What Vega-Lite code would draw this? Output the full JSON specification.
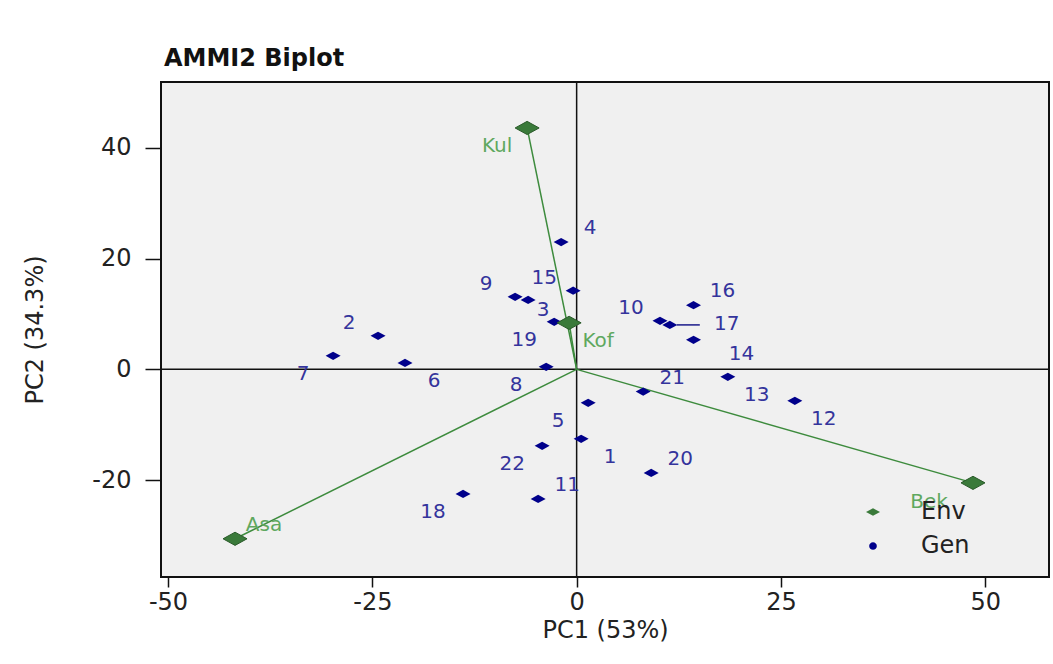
{
  "$schema": "https://vega.github.io/schema/vega-lite/v6.json",
  "autosize": "none",
  "padding": {"left": 161, "top": 82, "right": 4, "bottom": 87},
  "width": 888,
  "height": 495,
  "background": "white",
  "title": {"text": "AMMI2 Biplot", "anchor": "start", "frame": "group", "font": "DejaVu Sans", "fontSize": 24, "fontWeight": "bold", "color": "#111111", "offset": 10, "dx": 3},
  "datasets": {
    "pts": [
      {"label": "1", "type": "Gen", "PC1": 0.55, "PC2": -12.55},
      {"label": "2", "type": "Gen", "PC1": -24.3, "PC2": 6.05},
      {"label": "3", "type": "Gen", "PC1": -5.94, "PC2": 12.55},
      {"label": "4", "type": "Gen", "PC1": -1.9, "PC2": 23.0},
      {"label": "5", "type": "Gen", "PC1": 1.41, "PC2": -6.05},
      {"label": "6", "type": "Gen", "PC1": -21.0, "PC2": 1.17},
      {"label": "7", "type": "Gen", "PC1": -29.8, "PC2": 2.44},
      {"label": "8", "type": "Gen", "PC1": -3.73, "PC2": 0.45},
      {"label": "9", "type": "Gen", "PC1": -7.53, "PC2": 13.1},
      {"label": "10", "type": "Gen", "PC1": 10.2, "PC2": 8.76},
      {"label": "11", "type": "Gen", "PC1": -4.71, "PC2": -23.4},
      {"label": "12", "type": "Gen", "PC1": 26.7, "PC2": -5.69},
      {"label": "13", "type": "Gen", "PC1": 18.5, "PC2": -1.35},
      {"label": "14", "type": "Gen", "PC1": 14.3, "PC2": 5.33},
      {"label": "15", "type": "Gen", "PC1": -0.43, "PC2": 14.2},
      {"label": "16", "type": "Gen", "PC1": 14.3, "PC2": 11.6},
      {"label": "17", "type": "Gen", "PC1": 11.4, "PC2": 8.03},
      {"label": "18", "type": "Gen", "PC1": -13.9, "PC2": -22.5},
      {"label": "19", "type": "Gen", "PC1": -2.75, "PC2": 8.58},
      {"label": "20", "type": "Gen", "PC1": 9.12, "PC2": -18.7},
      {"label": "21", "type": "Gen", "PC1": 8.14, "PC2": -4.0},
      {"label": "22", "type": "Gen", "PC1": -4.22, "PC2": -13.8},
      {"label": "Kul", "type": "Env", "PC1": -6.06, "PC2": 43.6},
      {"label": "Kof", "type": "Env", "PC1": -0.92, "PC2": 8.4},
      {"label": "Bek", "type": "Env", "PC1": 48.5, "PC2": -20.5},
      {"label": "Asa", "type": "Env", "PC1": -41.8, "PC2": -30.6}
    ],
    "zero": [{"z": 0}]
  },
  "data": {"name": "pts"},
  "encoding": {
    "x": {"field": "PC1", "type": "quantitative", "scale": {"domain": [-50.86, 57.8], "nice": false, "zero": false},
      "axis": {"title": "PC1 (53%)", "values": [-50, -25, 0, 25, 50], "labelExpr": "'' + datum.value", "tickSize": 10, "labelPadding": 3, "titlePadding": 4}},
    "y": {"field": "PC2", "type": "quantitative", "scale": {"domain": [-37.5, 51.9], "nice": false, "zero": false},
      "axis": {"title": "PC2 (34.3%)", "values": [-20, 0, 20, 40], "labelExpr": "'' + datum.value", "tickSize": 16, "labelPadding": 14, "titlePadding": 44}}
  },
  "layer": [
    {"data": {"name": "zero"}, "mark": {"type": "rule", "color": "#111111", "strokeWidth": 1.5},
      "encoding": {"x": {"field": "z", "type": "quantitative"}, "y": null}},
    {"data": {"name": "zero"}, "mark": {"type": "rule", "color": "#111111", "strokeWidth": 1.5},
      "encoding": {"y": {"field": "z", "type": "quantitative"}, "x": null}},
    {"transform": [{"filter": "datum.type === 'Env'"}],
      "mark": {"type": "rule", "color": "#3d8b3d", "strokeWidth": 1.5},
      "encoding": {"x2": {"datum": 0}, "y2": {"datum": 0}}},
    {"transform": [{"filter": "datum.label === '17'"}],
      "mark": {"type": "rule", "color": "#1a1a8a", "strokeWidth": 1.5, "xOffset": 7, "x2Offset": 30},
      "encoding": {"x2": {"field": "PC1"}}},
    {"transform": [{"filter": "datum.type === 'Gen'"}],
      "mark": {"type": "point", "filled": true, "opacity": 1, "size": 225, "shape": "M-1,0L0,-0.55L1,0L0,0.55Z"},
      "encoding": {"color": {"field": "type", "type": "nominal",
        "scale": {"domain": ["Env", "Gen"], "range": ["#3a7a3a", "#00008b"]},
        "legend": {"title": null, "orient": "none", "legendX": 700, "legendY": 418, "labelFont": "DejaVu Sans", "labelFontSize": 24, "labelColor": "#222222", "symbolSize": 196, "labelOffset": 36, "rowPadding": 10, "symbolStrokeWidth": 0}}}},
    {"transform": [{"filter": "datum.type === 'Env'"}],
      "mark": {"type": "point", "filled": true, "opacity": 1, "size": 576, "stroke": "#2a5a2a", "strokeWidth": 1},
      "encoding": {
        "color": {"field": "type", "type": "nominal"},
        "shape": {"field": "type", "type": "nominal",
          "scale": {"domain": ["Env", "Gen"], "range": ["M-1,0L0,-0.55L1,0L0,0.55Z", "M-0.55,0A0.55,0.55 0 1,0 0.55,0A0.55,0.55 0 1,0 -0.55,0Z"]}}}},
    {"transform": [{"filter": {"field": "label", "oneOf": ["4", "11", "20", "21", "16", "Asa"]}}],
      "mark": {"type": "text", "font": "DejaVu Sans", "fontSize": 20, "dx": 29, "dy": -14, "align": "center", "baseline": "middle"},
      "encoding": {"text": {"field": "label"}, "fill": {"field": "type", "type": "nominal", "scale": {"domain": ["Env", "Gen"], "range": ["#5fa85f", "#34349c"]}, "legend": null}}},
    {"transform": [{"filter": {"field": "label", "oneOf": ["15", "9", "2", "10"]}}],
      "mark": {"type": "text", "font": "DejaVu Sans", "fontSize": 20, "dx": -29, "dy": -13, "align": "center", "baseline": "middle"},
      "encoding": {"text": {"field": "label"}, "fill": {"field": "type", "type": "nominal", "legend": null}}},
    {"transform": [{"filter": {"field": "label", "oneOf": ["7", "8", "5", "22", "18", "19", "Kul"]}}],
      "mark": {"type": "text", "font": "DejaVu Sans", "fontSize": 20, "dx": -30, "dy": 18, "align": "center", "baseline": "middle"},
      "encoding": {"text": {"field": "label"}, "fill": {"field": "type", "type": "nominal", "legend": null}}},
    {"transform": [{"filter": {"field": "label", "oneOf": ["6", "1", "12", "13", "Kof"]}}],
      "mark": {"type": "text", "font": "DejaVu Sans", "fontSize": 20, "dx": 29, "dy": 18, "align": "center", "baseline": "middle"},
      "encoding": {"text": {"field": "label"}, "fill": {"field": "type", "type": "nominal", "legend": null}}},
    {"transform": [{"filter": "datum.label === '3'"}],
      "mark": {"type": "text", "font": "DejaVu Sans", "fontSize": 20, "dx": 15, "dy": 10, "align": "center", "baseline": "middle"},
      "encoding": {"text": {"field": "label"}, "fill": {"field": "type", "type": "nominal", "legend": null}}},
    {"transform": [{"filter": "datum.label === '14'"}],
      "mark": {"type": "text", "font": "DejaVu Sans", "fontSize": 20, "dx": 48, "dy": 14, "align": "center", "baseline": "middle"},
      "encoding": {"text": {"field": "label"}, "fill": {"field": "type", "type": "nominal", "legend": null}}},
    {"transform": [{"filter": "datum.label === '17'"}],
      "mark": {"type": "text", "font": "DejaVu Sans", "fontSize": 20, "dx": 57, "dy": -1, "align": "center", "baseline": "middle"},
      "encoding": {"text": {"field": "label"}, "fill": {"field": "type", "type": "nominal", "legend": null}}},
    {"transform": [{"filter": "datum.label === 'Bek'"}],
      "mark": {"type": "text", "font": "DejaVu Sans", "fontSize": 20, "dx": -44, "dy": 19, "align": "center", "baseline": "middle"},
      "encoding": {"text": {"field": "label"}, "fill": {"field": "type", "type": "nominal", "legend": null}}}
  ],
  "config": {
    "font": "DejaVu Sans",
    "view": {"fill": "#f0f0f0", "stroke": "#111111", "strokeWidth": 2},
    "axis": {"domain": false, "grid": false, "tickColor": "#111111", "tickWidth": 1.5, "labelFontSize": 24, "labelColor": "#222222", "titleFontSize": 24, "titleFontWeight": "normal", "titleColor": "#222222", "labelFont": "DejaVu Sans", "titleFont": "DejaVu Sans"}
  }
}
